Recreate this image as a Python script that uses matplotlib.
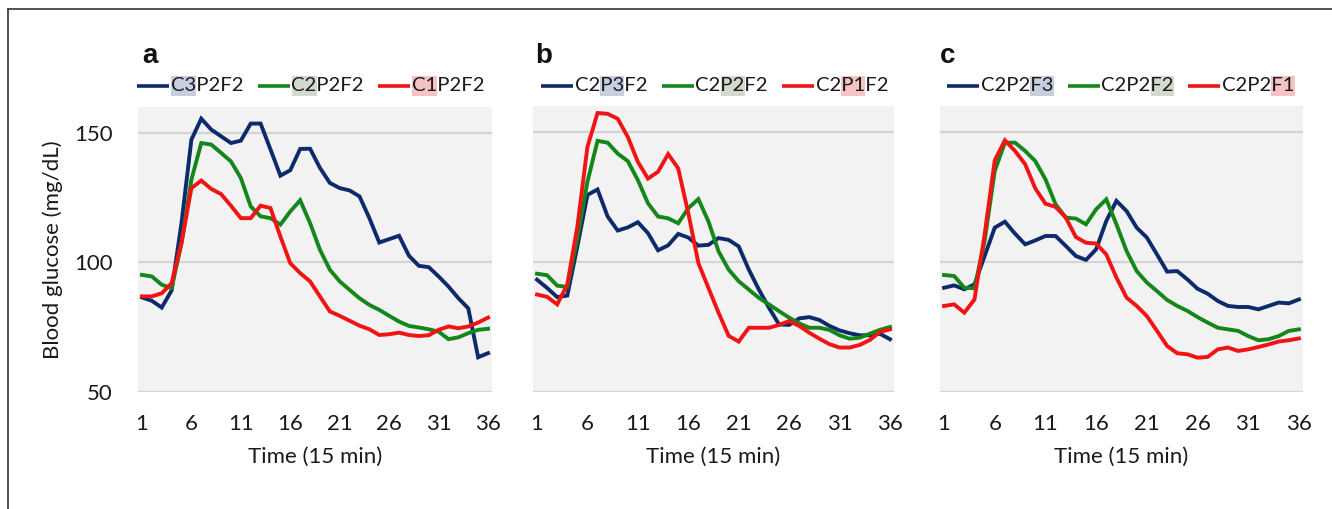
import matplotlib
matplotlib.use('Agg')
import matplotlib.pyplot as plt
from matplotlib.lines import Line2D
from matplotlib.patches import Rectangle

plt.rcParams['font.family'] = ['Lato', 'DejaVu Sans']

# ---------------- data ----------------
time = list(range(1, 37))
xticks = [1, 6, 11, 16, 21, 26, 31, 36]
yticks = [50, 100, 150]

# panel a (carbohydrate)
a_c3p2f2 = [86.5, 85.2, 82.6, 89.2, 115.2, 147.4, 155.5, 151.3, 148.7, 146.1, 147.0, 153.6,
            153.6, 143.6, 133.5, 135.6, 143.8, 143.9, 136.5, 130.7, 128.7, 127.8, 125.5, 117.1,
            107.7, 109.0, 110.3, 102.6, 98.7, 98.2, 94.6, 90.7, 86.2, 82.3, 63.4, 65.0]
a_c2p2f2 = [95.2, 94.6, 91.4, 90.1, 107.5, 132.0, 146.1, 145.5, 142.3, 139.0, 132.6, 121.6,
            117.8, 117.1, 114.6, 119.7, 124.0, 115.2, 104.9, 97.2, 92.7, 89.4, 86.2, 83.6,
            81.7, 79.4, 77.2, 75.5, 74.9, 74.2, 73.3, 70.4, 71.1, 72.7, 74.0, 74.4]
a_c1p2f2 = [86.9, 86.9, 88.1, 92.0, 107.5, 128.7, 131.6, 128.4, 126.4, 121.9, 117.1, 117.1,
            121.9, 121.0, 110.0, 99.7, 95.9, 92.7, 86.9, 81.1, 79.4, 77.5, 75.6, 74.2,
            72.0, 72.3, 72.9, 72.0, 71.6, 71.9, 74.0, 75.3, 74.6, 75.3, 76.8, 78.7]

# panel b (protein)
b_c2p3f2 = [93.2, 90.0, 86.5, 87.1, 106.0, 125.8, 127.9, 117.5, 112.1, 113.3, 115.3, 111.1,
            104.5, 106.4, 110.8, 109.4, 106.3, 106.6, 109.2, 108.5, 106.0, 97.1, 89.4, 82.4,
            76.0, 75.8, 78.3, 78.8, 77.7, 75.4, 73.7, 72.6, 71.8, 71.8, 72.4, 70.3]
b_c2p2f2 = [95.5, 94.9, 90.9, 90.4, 109.2, 130.9, 146.6, 145.9, 141.7, 138.8, 131.5, 122.6,
            117.5, 116.8, 114.9, 120.7, 124.2, 115.6, 104.1, 97.1, 92.6, 89.4, 86.2, 83.7,
            81.1, 78.6, 76.4, 74.7, 74.7, 73.9, 71.8, 70.5, 70.9, 72.4, 73.9, 75.0]
b_c2p1f2 = [87.5, 86.6, 83.7, 91.3, 113.6, 144.3, 157.3, 157.0, 155.1, 148.1, 138.5, 132.1,
            134.7, 141.5, 136.0, 118.8, 99.6, 90.0, 80.5, 71.6, 69.4, 74.7, 74.7, 74.7,
            75.8, 77.3, 75.4, 72.8, 70.5, 68.4, 67.1, 67.1, 68.1, 70.0, 73.1, 74.1]

# panel c (fat)
c_c2p2f3 = [90.1, 91.0, 89.5, 91.4, 102.3, 113.2, 115.5, 110.9, 106.8, 108.3, 110.0, 110.0,
            106.2, 102.3, 100.8, 104.9, 115.8, 123.5, 119.6, 113.2, 109.4, 102.9, 96.3, 96.5,
            93.3, 89.7, 87.8, 85.0, 83.1, 82.7, 82.7, 81.8, 83.1, 84.4, 84.1, 85.6]
c_c2p2f2 = [95.0, 94.6, 90.1, 89.9, 108.1, 135.0, 145.9, 145.9, 142.7, 138.8, 131.8, 122.2,
            117.1, 116.7, 114.5, 120.3, 124.1, 114.5, 104.2, 96.5, 92.1, 88.8, 85.4, 83.1,
            81.2, 78.8, 76.7, 74.7, 74.1, 73.5, 71.5, 69.9, 70.3, 71.5, 73.5, 74.1]
c_c2p2f1 = [83.1, 83.7, 80.5, 85.6, 110.6, 139.1, 146.8, 142.7, 137.6, 128.3, 122.4, 121.2,
            117.1, 109.6, 107.4, 107.1, 102.9, 94.0, 86.3, 83.1, 79.2, 73.5, 67.7, 64.9,
            64.5, 63.2, 63.5, 66.4, 67.1, 65.8, 66.4, 67.3, 68.3, 69.4, 69.9, 70.6]

panel_letters = ['a', 'b', 'c']
# legend labels split as (prefix, highlighted part, suffix)
labels_a = [('', 'C3', 'P2F2'), ('', 'C2', 'P2F2'), ('', 'C1', 'P2F2')]
labels_b = [('C2', 'P3', 'F2'), ('C2', 'P2', 'F2'), ('C2', 'P1', 'F2')]
labels_c = [('C2P2', 'F3', ''), ('C2P2', 'F2', ''), ('C2P2', 'F1', '')]
series = [[a_c3p2f2, a_c2p2f2, a_c1p2f2],
          [b_c2p3f2, b_c2p2f2, b_c2p1f2],
          [c_c2p2f3, c_c2p2f2, c_c2p2f1]]
all_labels = [labels_a, labels_b, labels_c]

ylabel = 'Blood glucose (mg/dL)'
xlabel = 'Time (15 min)'

# ---------------- styling ----------------
line_colors = ['#0d2a6b', '#14871a', '#f01414']
hl_colors = ['#c7cedf', '#d2d9cd', '#f6c3c5']
W, H = 1332, 509
fig = plt.figure(figsize=(W / 100, H / 100), dpi=100)

# axes boxes in pixels: (left, right, top, bottom)
boxes = [(138, 492, 107, 392), (533, 894, 106, 392), (940, 1303, 106, 392)]
legend_x0 = [137, 541, 947]
letter_x = [142, 535, 940]
LFS = 14.6

renderer = fig.canvas.get_renderer()


def fx(x):
    return x / W


def fy(y):
    return 1 - y / H


def text_width(s):
    if not s:
        return 0.0
    t = fig.text(0, 0, s, fontsize=LFS)
    w = t.get_window_extent(renderer).width
    t.remove()
    return w


def legend_row(x0, y, labels):
    x = x0
    for color, hl, (pre, mid, post) in zip(line_colors, hl_colors, labels):
        fig.add_artist(Line2D([fx(x), fx(x + 32)], [fy(y), fy(y)], color=color, lw=2.6,
                              transform=fig.transFigure, solid_capstyle='butt'))
        x += 34
        w0 = text_width(pre)
        w1 = text_width(pre + mid)
        fig.add_artist(Rectangle((fx(x + w0), fy(y + 10)), (w1 - w0) / W, 20 / H,
                                 transform=fig.transFigure, fc=hl, ec='none', zorder=1))
        t = fig.text(fx(x), fy(y), pre + mid + post, ha='left', va='center', fontsize=LFS,
                     color='#1a1a1a', zorder=2)
        x += t.get_window_extent(renderer).width
        x += 14


for i, (l, r, t, b) in enumerate(boxes):
    ax = fig.add_axes([fx(l), fy(b), (r - l) / W, (b - t) / H])
    ax.set_facecolor('#f2f2f2')
    for s in ax.spines.values():
        s.set_visible(False)
    ax.set_ylim(50, 160)
    ax.set_xlim(0.6, 36.4)
    ax.set_yticks(yticks)
    ax.set_xticks(xticks)
    ax.yaxis.grid(True, color='#d4d4d4', lw=1.6)
    ax.set_axisbelow(True)
    ax.tick_params(length=0, labelsize=16, colors='#1a1a1a')
    ax.tick_params(axis='x', pad=16)
    ax.tick_params(axis='y', pad=18)
    if i > 0:
        ax.set_yticklabels([])
    else:
        ax.set_ylabel(ylabel, fontsize=16, color='#1a1a1a', labelpad=8)
    ax.set_xlabel(xlabel, fontsize=16, color='#1a1a1a', labelpad=9)
    for vals, c in zip(series[i], line_colors):
        ax.plot(time, vals, color=c, lw=2.8, solid_joinstyle='miter')
    fig.text(fx(letter_x[i]), fy(56), panel_letters[i], fontsize=20, fontweight='bold',
             family='Liberation Sans', ha='left', va='center', color='#111111')
    legend_row(legend_x0[i], 86, all_labels[i])

# outer frame (left and top)
fig.add_artist(Line2D([fx(8), 1], [fy(9), fy(9)], color='#333333', lw=1.2,
                      transform=fig.transFigure))
fig.add_artist(Line2D([fx(8), fx(8)], [fy(9), 0], color='#333333', lw=1.2,
                      transform=fig.transFigure))

fig.savefig('out.png', dpi=100, facecolor='white')
